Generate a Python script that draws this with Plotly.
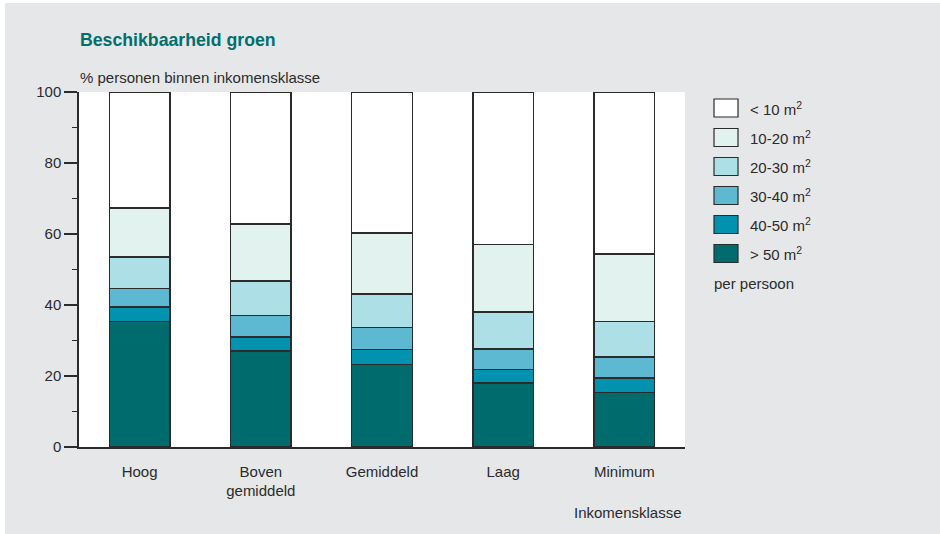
import plotly.graph_objects as go

# ---- data ----
categories = ["Hoog", "Boven<br>gemiddeld", "Gemiddeld", "Laag", "Minimum"]
series_names = ["> 50 m<sup>2</sup>", "40-50 m<sup>2</sup>", "30-40 m<sup>2</sup>",
                "20-30 m<sup>2</sup>", "10-20 m<sup>2</sup>", "< 10 m<sup>2</sup>"]
gt50 = [35.4, 27.0, 23.3, 18.0, 15.4]
s40_50 = [4.0, 4.0, 4.1, 3.9, 4.0]
s30_40 = [5.3, 6.0, 6.2, 5.7, 5.9]
s20_30 = [8.8, 9.8, 9.5, 10.5, 10.1]
s10_20 = [13.8, 16.0, 17.2, 18.9, 19.0]
lt10 = [32.7, 37.2, 39.7, 43.0, 45.6]
series_values = [gt50, s40_50, s30_40, s20_30, s10_20, lt10]
y_tick_vals = [0, 20, 40, 60, 80, 100]

# ---- style ----
colors = ["#006b6d", "#0092ae", "#5db8d2", "#addfe6", "#e1f2ef", "#ffffff"]
bg = "#e6e7e9"
dark = "#2b2b2b"
font_family = "Arial, 'Liberation Sans', sans-serif"

W, H = 940, 534
ML, MR, MT, MB = 79, 255, 92, 87
PW, PH = W - ML - MR, H - MT - MB


def px_x(p):
    return (p - ML) / PW


def px_y(p):
    return (H - MB - p) / PH


fig = go.Figure()
for name, vals, col in zip(series_names, series_values, colors):
    fig.add_trace(go.Bar(
        x=categories, y=vals, name=name, width=0.5,
        marker=dict(color=col, line=dict(color=dark, width=1.5)),
        showlegend=False,
    ))

shapes = []
annotations = []

# white thin border of the original picture
shapes.append(dict(type="rect", xref="paper", yref="paper", x0=px_x(0), x1=px_x(5),
                   y0=px_y(H), y1=px_y(0), fillcolor="white", line=dict(width=0), layer="below"))
shapes.append(dict(type="rect", xref="paper", yref="paper", x0=px_x(0), x1=px_x(W),
                   y0=px_y(3), y1=px_y(0), fillcolor="white", line=dict(width=0), layer="below"))

# manual legend (top: < 10, bottom: > 50)
legend_rows = [108, 137.5, 166.5, 195.5, 224.5, 253.5]
for i, (name, col) in enumerate(zip(reversed(series_names), reversed(colors))):
    yc = legend_rows[i]
    shapes.append(dict(type="rect", xref="paper", yref="paper",
                       x0=px_x(714), x1=px_x(738), y0=px_y(yc + 9), y1=px_y(yc - 9),
                       fillcolor=col, line=dict(color=dark, width=1.2)))
    annotations.append(dict(text=name, xref="paper", yref="paper", x=px_x(748), y=px_y(yc),
                            xanchor="left", yanchor="middle", showarrow=False,
                            font=dict(size=15, color=dark)))
annotations.append(dict(text="per persoon", xref="paper", yref="paper", x=px_x(712), y=px_y(283),
                        xanchor="left", yanchor="middle", showarrow=False,
                        font=dict(size=15, color=dark)))

annotations.append(dict(text="<b>Beschikbaarheid groen</b>", xref="paper", yref="paper",
                        x=px_x(78), y=px_y(40), xanchor="left", yanchor="middle", showarrow=False,
                        font=dict(size=17.7, color="#00706f")))
annotations.append(dict(text="% personen binnen inkomensklasse", xref="paper", yref="paper",
                        x=px_x(78), y=px_y(77), xanchor="left", yanchor="middle", showarrow=False,
                        font=dict(size=15, color=dark)))
annotations.append(dict(text="Inkomensklasse", xref="paper", yref="paper",
                        x=px_x(684), y=px_y(512), xanchor="right", yanchor="middle", showarrow=False,
                        font=dict(size=15, color=dark)))

fig.update_layout(
    width=W, height=H,
    margin=dict(l=ML, r=MR, t=MT, b=MB, pad=0),
    paper_bgcolor=bg, plot_bgcolor="white",
    barmode="stack",
    font=dict(family=font_family, size=15, color=dark),
    showlegend=False,
    shapes=shapes,
    annotations=annotations,
    xaxis=dict(range=[-0.5, 4.5], showgrid=False, zeroline=False, showline=True,
               linecolor=dark, linewidth=1.5, ticks="", ticklabelstandoff=10,
               tickfont=dict(size=15, color=dark), fixedrange=True),
    yaxis=dict(range=[0, 100], tickvals=y_tick_vals, showgrid=False, zeroline=False,
               showline=True, linecolor=dark, linewidth=1.5, ticks="outside", ticklen=13,
               tickwidth=1.5, tickcolor=dark, tickfont=dict(size=15, color=dark),
               minor=dict(dtick=10, ticks="outside", ticklen=5, tickwidth=1, tickcolor=dark)),
)

fig.write_html("out.html", config={"displayModeBar": False},
               post_script="document.body.style.margin='0';")
